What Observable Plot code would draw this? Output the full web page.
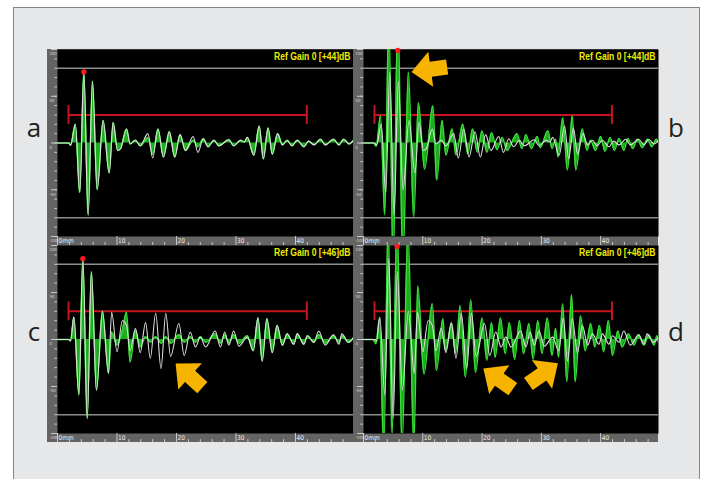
<!DOCTYPE html>
<html>
<head>
<meta charset="utf-8">
<script src="https://cdn.jsdelivr.net/npm/d3@7"></script>
<script src="https://cdn.jsdelivr.net/npm/@observablehq/plot@0.6"></script>
<style>
  html, body { margin: 0; padding: 0; background: #ffffff; }
  #page { position: relative; width: 706px; height: 479px; overflow: hidden; background: #ffffff; }
  #frame { position: absolute; left: 13px; top: 7px; width: 687px; height: 490px; background: #e6e7e8;
           border-left: 1px solid #7d878c; border-top: 1px solid #7d878c; border-right: 1px solid #7d878c; box-sizing: border-box; }
  .panel { position: absolute; }
  .panel svg { display: block; }
  #labels { position: absolute; left: 0; top: 0; }
</style>
</head>
<body>
<div id="page">
  <div id="frame"></div>
  <div class="panel" id="pa" style="left:47px;top:49px"></div>
  <div class="panel" id="pb" style="left:353px;top:49px"></div>
  <div class="panel" id="pc" style="left:47px;top:245px"></div>
  <div class="panel" id="pd" style="left:353px;top:245px"></div>
</div>
<script>
// ---------- data: [depth mm, amplitude %] at waveform extrema ----------
const refAB = [[0,0],[1.9,0],[2.2,-2.5],[3.0,20],[3.75,-53],[4.43,76],[5.15,-77],[5.88,66],[6.67,-50],[7.67,24],[8.68,-32],[9.36,22],[10.1,-8],[10.6,-6],[11.6,15],[12.2,-1],[13.1,3],[13.9,-3],[15.2,10],[16.0,-16],[16.9,15],[17.8,-15],[18.8,12],[19.7,-15],[20.6,9],[21.5,-8],[22.8,7],[23.6,-10],[24.5,4.5],[25.3,-4],[26.3,3],[27.1,-3],[28.8,3.5],[29.6,-3],[30.8,3],[31.4,1],[31.9,6],[33.0,-13],[33.9,18],[34.6,-17],[35.4,16],[36.1,-12],[37.0,10],[37.8,-2],[38.6,3],[39.4,-3],[40.3,3],[41.4,-4],[42.2,2],[43.1,-2],[44.2,4],[45.0,-2],[46.4,4],[47.3,-2],[48.1,4],[49.0,-1],[49.75,3]];
const greenA = [[0,0],[1.9,0],[2.2,-2.5],[3.0,20],[3.75,-53],[4.43,76],[5.15,-77],[5.88,66],[6.67,-50],[7.67,24],[8.68,-32],[9.36,22],[10.1,-8],[10.6,-6],[11.6,15],[12.2,-1],[13.1,3],[13.9,-3],[15.2,6],[16.0,-12],[16.9,15],[17.8,-15],[18.8,12],[19.7,-15],[20.6,9],[21.5,-8],[22.8,3],[23.6,-4],[24.5,4.5],[25.3,-4],[26.3,3],[27.1,-3],[28.8,3.5],[29.6,-3],[30.8,3],[31.4,1],[31.9,6],[33.0,-13],[33.9,18],[34.6,-17],[35.4,16],[36.1,-12],[37.0,10],[37.8,-2],[38.6,3],[39.4,-3],[40.3,3],[41.4,-4],[42.2,2],[43.1,-2],[44.2,4],[45.0,-2],[46.4,4],[47.3,-2],[48.1,4],[49.0,-1],[49.75,3]];
const greenB = [[0,0],[1.7,0],[2.13,-3.6],[2.87,29],[3.6,-77],[4.27,140],[5.0,-135],[5.79,145],[6.63,-130],[7.58,76],[8.48,-79],[9.27,43],[10.3,-28],[11.7,40],[12.36,-40],[13.26,24],[13.9,-13],[14.94,15],[15.6,-13],[16.74,20],[17.6,-12],[18.4,15],[19.2,-10],[20.0,13],[20.8,-10],[21.6,11],[22.5,-7],[23.4,6],[24.2,-8],[25.9,10],[26.7,-6],[27.4,9],[28.3,-6],[29.3,7],[29.8,-5],[31.1,13],[31.8,-6],[32.4,4],[32.8,-15],[33.6,27],[34.4,-29],[35.2,29],[35.8,-29],[36.9,15],[37.7,-8],[38.3,3],[39.1,-8],[40.0,7],[40.7,-9],[41.6,6],[42.3,-8],[43.1,5],[43.9,-8],[44.6,5],[45.4,-6],[46.2,4],[47.0,-5],[47.9,4],[48.6,-4],[49.4,4],[49.75,0]];
const refCD = [[0,0],[1.9,0],[2.2,-1.5],[2.75,24],[3.6,-59],[4.26,86],[5.0,-84],[5.7,72],[6.55,-54],[7.56,30],[8.57,-36],[9.1,29],[10.0,-13],[10.9,20],[11.6,15],[12.2,-12],[13.1,12],[13.9,-14],[14.8,18],[15.6,-20],[16.5,28],[17.4,-31],[18.2,28],[19.0,-18],[20.4,17],[21.3,-17],[22.3,8],[23.2,-8],[24.0,2.5],[24.9,-8],[26.5,9],[27.4,-8],[28.1,8],[28.8,-6],[29.6,9],[30.5,-7],[31.9,2.5],[32.9,-12],[33.7,23],[34.4,-23],[35.2,22],[36.1,-14],[36.9,15],[37.8,-6],[38.6,6],[39.7,-5],[40.3,6],[41.4,-5],[42.0,4],[43.1,-3],[43.9,9],[45.0,-6],[46.4,5],[47.3,-5],[47.8,6],[48.9,-3],[49.75,2]];
const greenC = [[0,0],[1.9,0],[2.2,-1.5],[2.75,24],[3.6,-59],[4.26,86],[5.0,-84],[5.7,72],[6.55,-54],[7.56,30],[8.57,-36],[9.1,8],[10.0,-6],[10.9,10],[11.6,29],[12.2,-24],[13.1,10],[13.9,-8],[14.8,3],[15.6,-3],[16.5,3],[17.4,-4],[18.2,3],[19.0,-4],[20.4,5],[21.3,-3],[22.3,3],[23.2,-3],[24.0,3],[24.9,-3],[26.5,6],[27.4,-4],[28.1,5],[28.8,-4],[29.6,5],[30.5,-4],[31.9,4],[32.9,-12],[33.7,23],[34.4,-23],[35.2,22],[36.1,-14],[36.9,15],[37.8,-6],[38.6,6],[39.7,-5],[40.3,6],[41.4,-5],[42.0,4],[43.1,-3],[43.9,5],[45.0,-4],[46.4,4],[47.3,-3],[47.8,4],[48.9,-3],[49.75,2]];
const greenD = [[0,0],[1.6,0],[2.1,-4.6],[2.7,22],[3.43,-115],[4.16,125],[4.83,-100],[5.67,130],[6.5,-115],[7.5,118],[8.5,-110],[9.16,57],[10.2,-37],[11.6,38],[12.3,-33],[13.4,22],[13.8,-12],[14.9,17],[15.5,-15],[16.3,36],[17.2,-40],[18.1,42],[18.9,-35],[20.0,23],[20.8,-22],[21.6,18],[22.2,-19],[23.1,23],[23.9,-15],[24.6,18],[25.5,-21],[26.3,20],[27.0,-15],[27.9,17],[28.6,-21],[29.4,20],[30.1,-15],[31.0,23],[31.8,-17],[32.4,12],[32.9,-19],[33.6,38],[34.3,-45],[35.1,48],[35.7,-45],[36.6,25],[37.4,-12],[38.3,17],[39.0,-8],[39.8,15],[40.5,-13],[41.3,20],[42.0,-17],[42.9,9],[43.6,-8],[44.7,6],[45.6,-6],[46.4,5],[47.3,-6],[48.1,5],[49.0,-6],[49.5,4],[49.75,-4]];

const gainLabels = ["Ref Gain 0 [+44]dB", "Ref Gain 0 [+44]dB", "Ref Gain 0 [+46]dB", "Ref Gain 0 [+46]dB"];
const peakMarks = [[4.43, 76], [5.79, 99], [4.26, 86], [5.67, 99]];
const gate = {start: 1.85, end: 41.9, level: 30};
const alarmLevels = [80, -80];
const xTicks = [0, 10, 20, 30, 40];
const xTickLabels = ["0mm", "10", "20", "30", "40"];
const yTicks = [100, 50, 0, -50, -100];
const yTickLabels = ["100", "50", "0", "-50", "-100"];
const arrowsB = [{x: 11.1, y: 78.6, angle: 172}];
const arrowsC = [{x: 22.1, y: -38.3, angle: 222}];
const arrowsD = [{x: 22.7, y: -41.8, angle: 215}, {x: 30.3, y: -36.2, angle: 325}];
const panelLetters = ["a", "b", "c", "d"];

// ---------- drawing ----------
const RED = "#c8141e";
const STRIP = "#646464";
const TICKC = "#c9c9c9";
const X_DOMAIN = [0, 49.75];
const minorX = d3.range(2, 50, 2).filter(v => v % 10 !== 0);
const minorY = d3.range(-90, 100, 10);

const blockArrow = {
  draw(ctx, size) {
    const r = Math.sqrt(size / Math.PI);
    ctx.moveTo(r, 0);
    ctx.lineTo(-0.08 * r, 0.98 * r);
    ctx.lineTo(-0.08 * r, 0.42 * r);
    ctx.lineTo(-r, 0.42 * r);
    ctx.lineTo(-r, -0.42 * r);
    ctx.lineTo(-0.08 * r, -0.42 * r);
    ctx.lineTo(-0.08 * r, -0.98 * r);
    ctx.closePath();
  }
};

function panel(green, ref, gain, peak, arrows, w, h) {
  const px = d => d[0], py = d => d[1];
  const chart = Plot.plot({
    width: w, height: h,
    marginLeft: 10, marginRight: 0, marginTop: 0, marginBottom: 9,
    x: {domain: X_DOMAIN, axis: null},
    y: {domain: [-100, 100], axis: null},
    style: {background: STRIP, overflow: "visible"},
    marks: [
      Plot.frame({fill: "#000000", stroke: null}),
      Plot.ruleY(alarmLevels, {stroke: "#8e8e8e", strokeWidth: 1.5}),
      Plot.ruleY([gate], {y: "level", x1: "start", x2: "end", stroke: RED, strokeWidth: 2}),
      Plot.ruleX([gate.start, gate.end], {y1: gate.level - 10, y2: gate.level + 10, stroke: RED, strokeWidth: 2}),
      Plot.areaY(green, {x: px, y: py, curve: "monotone-x", fill: "#1fae1f", clip: true}),
      Plot.lineY(green, {x: px, y: py, curve: "monotone-x", stroke: "#3ade3a", strokeWidth: 1.4, clip: true}),
      Plot.lineY(ref, {x: px, y: py, curve: "monotone-x", stroke: "#dedede", strokeWidth: 1.1, clip: true}),
      Plot.dot([peak], {x: px, y: py, r: 2.6, fill: "#ff1a1a", stroke: null}),
      Plot.dot(arrows, {x: "x", y: "y", r: 18, rotate: "angle", symbol: blockArrow, fill: "#f6b300", stroke: null}),
      Plot.text([gain], {text: d => d, frameAnchor: "top-right", dx: -3, dy: 3, lineAnchor: "top",
        fill: "#ecec00", fontSize: 11, fontWeight: "bold",
        fontFamily: "'Liberation Sans', Arial, sans-serif"}),
      // x strip
      Plot.ruleX(xTicks, {y1: -100, y2: -109.6, stroke: TICKC, strokeWidth: 1}),
      Plot.ruleX(minorX, {y1: -106.5, y2: -109.6, stroke: TICKC, strokeWidth: 1}),
      Plot.text(xTicks, {x: d => d, y: -104.8, text: (d, i) => xTickLabels[i], textAnchor: "start", dx: 1,
        fill: "#eeeeee", fontSize: 6.5, fontFamily: "'DejaVu Sans Condensed', sans-serif"}),
      // y strip
      Plot.ruleY(minorY, {x1: -0.45, x2: 0, stroke: TICKC, strokeWidth: 1}),
      Plot.ruleY(yTicks, {x1: -1.0, x2: 0, stroke: TICKC, strokeWidth: 1}),
      Plot.text(yTicks, {x: -1.35, y: d => d, text: (d, i) => yTickLabels[i], textAnchor: "start", dy: 4.5,
        fill: "#dddddd", fontSize: 4.2, fontFamily: "'DejaVu Sans Condensed', sans-serif"})
    ]
  });
  // the instrument's gain label is a narrow face: compress it horizontally about its right end
  d3.select(chart).selectAll("text").filter(function () { return this.textContent === gain; })
    .attr("text-anchor", "end")
    .attr("transform", function () { return (this.getAttribute("transform") || "") + " scale(0.78,1)"; });
  return chart;
}

document.getElementById("pa").append(panel(greenA, refAB, gainLabels[0], peakMarks[0], [], 306, 196));
document.getElementById("pb").append(panel(greenB, refAB, gainLabels[1], peakMarks[1], arrowsB, 305, 196));
document.getElementById("pc").append(panel(greenC, refCD, gainLabels[2], peakMarks[2], arrowsC, 306, 197));
document.getElementById("pd").append(panel(greenD, refCD, gainLabels[3], peakMarks[3], arrowsD, 305, 197));

// panel letters
const svg = d3.select("#page").append("svg").attr("id", "labels").attr("width", 706).attr("height", 479);
const letterPos = [[34, 137], [676, 137], [34, 341], [676, 341]];
svg.selectAll("text").data(panelLetters).join("text")
  .attr("x", (d, i) => letterPos[i][0]).attr("y", (d, i) => letterPos[i][1])
  .attr("text-anchor", "middle")
  .attr("font-family", "'Open Sans', sans-serif").attr("font-size", 26).attr("fill", "#231f20")
  .text(d => d);
</script>
</body>
</html>
